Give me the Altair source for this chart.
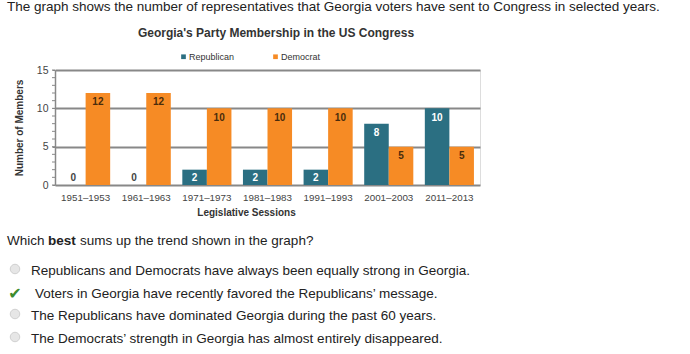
import altair as alt
import pandas as pd

sessions = ["1951–1953", "1961–1963", "1971–1973", "1981–1983", "1991–1993", "2001–2003", "2011–2013"]
republican = [0, 0, 2, 2, 2, 8, 10]
democrat = [12, 12, 10, 10, 10, 5, 5]
parties = ["Republican", "Democrat"]
party_colors = ["#2b6f82", "#f68b25"]
y_major = [0, 5, 10, 15]
y_minor = list(range(16))

question = "The graph shows the number of representatives that Georgia voters have sent to Congress in selected years."
chart_title = "Georgia's Party Membership in the US Congress"
prompt_parts = ["Which", "best", "sums up the trend shown in the graph?"]
options = [
    "Republicans and Democrats have always been equally strong in Georgia.",
    "Voters in Georgia have recently favored the Republicans’ message.",
    "The Republicans have dominated Georgia during the past 60 years.",
    "The Democrats’ strength in Georgia has almost entirely disappeared.",
]
correct_index = 1

rows = []
for i, s in enumerate(sessions):
    rows.append({"session": s, "party": "Republican", "value": republican[i]})
    rows.append({"session": s, "party": "Democrat", "value": democrat[i]})
df = pd.DataFrame(rows)

W, H = 425, 115
L, T = 55, 70

base = alt.Chart(df)

xenc = alt.X("session:N", sort=sessions,
             scale=alt.Scale(paddingInner=0.19, paddingOuter=0.1),
             axis=alt.Axis(title="Legislative Sessions", labelAngle=0, ticks=False,
                           domain=False, labelFontSize=9.8, labelColor="#444444",
                           labelFontWeight="normal",
                           labelFont="Liberation Sans", labelPadding=7,
                           titleFont="Liberation Sans", titleFontSize=10,
                           titleFontWeight="bold", titleColor="#333333", titlePadding=6,
                           titleX=191, titleAlign="center"))
xoff = alt.XOffset("party:N", sort=parties, scale=alt.Scale(paddingInner=0, paddingOuter=0))

yaxis = alt.Axis(values=y_major, title="Number of Members", grid=True,
                 gridColor="#888888", gridWidth=2,
                 domainColor="#888888", domainWidth=1.5,
                 tickColor="#888888", tickSize=3, tickWidth=1,
                 labelFontSize=10.5, labelColor="#444444", labelFont="Liberation Sans",
                 labelFontWeight="normal", labelOverlap=False,
                 labelPadding=4, titleFont="Liberation Sans", titleFontSize=10,
                 titleFontWeight="bold", titleColor="#333333", titlePadding=12)

bars = base.mark_bar().encode(
    x=xenc,
    xOffset=xoff,
    y=alt.Y("value:Q", scale=alt.Scale(domain=[0, 15], nice=False), axis=yaxis),
    color=alt.Color("party:N", sort=parties,
                    scale=alt.Scale(domain=parties, range=party_colors),
                    legend=alt.Legend(title=None, orient="none", legendX=124, legendY=-18,
                                      direction="horizontal", symbolType="square",
                                      symbolSize=22, symbolStrokeWidth=0,
                                      labelFontSize=9, labelFont="Liberation Sans",
                                      labelColor="#333333", labelOffset=1,
                                      columnPadding=36)),
)

minor = alt.Chart(pd.DataFrame({"value": y_minor})).mark_rule(
    color="#888888", strokeWidth=1
).encode(
    y=alt.Y("value:Q", axis=yaxis),
    x=alt.value(-3),
    x2=alt.value(0),
)

labels = base.transform_calculate(
    laby="max(datum.value - 1.2, 0.9)",
    tcolor="datum.value == 0 ? '#444444' : (datum.party == 'Republican' ? '#ffffff' : '#4a2c0c')",
).mark_text(fontSize=10, fontWeight="bold", font="Liberation Sans", baseline="middle").encode(
    x=alt.X("session:N", sort=sessions),
    xOffset=xoff,
    y=alt.Y("laby:Q", axis=yaxis),
    text=alt.Text("value:Q"),
    color=alt.Color("tcolor:N", scale=None),
)


def txt(s, x, y, size=13.5, weight="normal", font="Liberation Sans", color="#222222", align="left"):
    return alt.Chart(pd.DataFrame({"t": [s]})).mark_text(
        fontSize=size, fontWeight=weight, font=font, color=color, align=align, baseline="middle"
    ).encode(x=alt.value(x - L), y=alt.value(y - T), text="t:N")


layers = [bars, minor, labels]
layers.append(txt(question, 7, 7))
layers.append(txt(chart_title, 276, 33, size=12, weight="bold", color="#333333", align="center"))
layers.append(txt(prompt_parts[0], 7, 241))
layers.append(txt(prompt_parts[1], 48, 241, weight="bold"))
layers.append(txt(prompt_parts[2], 80, 241))

opt_y = [271, 294, 316, 339]
for i, o in enumerate(options):
    layers.append(txt(o, 35 if i == correct_index else 31, opt_y[i]))
    if i == correct_index:
        layers.append(txt("✔", 15, opt_y[i], size=16, font="DejaVu Sans", color="#3d8c2e", align="center"))
    else:
        layers.append(alt.Chart(pd.DataFrame({"t": [o]})).mark_point(
            shape="circle", filled=True, size=90, fill="#e6e6e6", stroke="#d0d0d0",
            strokeWidth=1, opacity=1).encode(x=alt.value(15 - L), y=alt.value(opt_y[i] - 2 - T)))

chart = alt.layer(*layers).properties(
    width=W, height=H,
    autosize=alt.AutoSizeParams(type="none"),
    padding={"left": L, "top": T, "right": 690 - L - W, "bottom": 354 - T - H},
).configure_view(stroke=None).configure(background="white")

chart.save("out.html", embed_options={"renderer": "svg", "actions": False})
